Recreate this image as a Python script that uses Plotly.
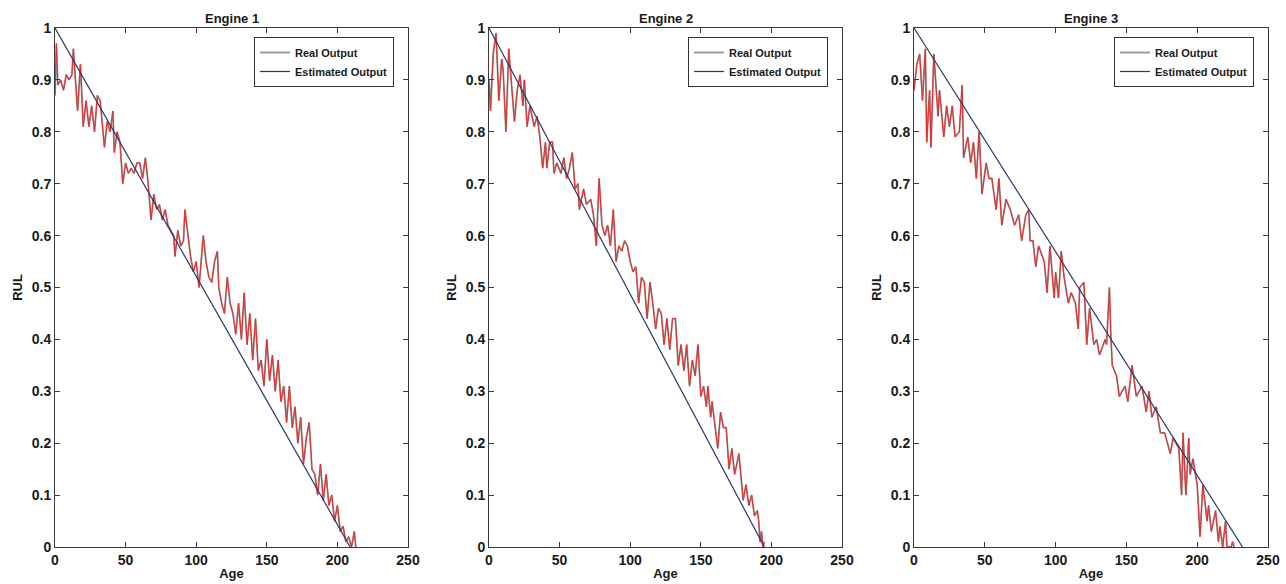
import plotly.graph_objects as go

# ---------------- data ----------------
titles = ["Engine 1", "Engine 2", "Engine 3"]

age1 = [0, 1, 2, 4, 6, 8, 10, 12, 13, 15, 16, 18, 20, 22, 24, 26, 28, 30, 32, 34, 35, 37, 39, 41, 42, 44,
        46, 48, 50, 52, 54, 56, 58, 60, 62, 64, 66, 68, 70, 72, 74, 76, 78, 80, 82, 84, 85, 87, 89, 91,
        92, 94, 96, 98, 100, 102, 104, 105, 107, 109, 111, 113, 115, 116, 118, 120, 122, 124, 126, 128,
        130, 132, 134, 136, 138, 140, 142, 144, 146, 148, 150, 152, 154, 156, 158, 160, 162, 164, 166,
        168, 170, 172, 174, 176, 178, 180, 182, 184, 186, 188, 190, 192, 194, 196, 198, 200, 202, 204,
        206, 208, 210, 212, 213]
real1 = [0.87, 0.97, 0.89, 0.90, 0.88, 0.91, 0.90, 0.91, 0.96, 0.88, 0.84, 0.93, 0.81, 0.86, 0.81, 0.85,
         0.80, 0.87, 0.86, 0.80, 0.77, 0.82, 0.80, 0.84, 0.76, 0.80, 0.78, 0.70, 0.74, 0.72, 0.73, 0.72,
         0.74, 0.74, 0.71, 0.75, 0.70, 0.63, 0.68, 0.65, 0.66, 0.63, 0.65, 0.62, 0.61, 0.60, 0.56, 0.61,
         0.58, 0.59, 0.65, 0.60, 0.56, 0.53, 0.55, 0.50, 0.58, 0.60, 0.55, 0.52, 0.51, 0.55, 0.57, 0.50,
         0.47, 0.45, 0.52, 0.47, 0.45, 0.41, 0.47, 0.40, 0.49, 0.39, 0.45, 0.36, 0.44, 0.34, 0.36, 0.31,
         0.40, 0.32, 0.37, 0.30, 0.36, 0.28, 0.31, 0.24, 0.31, 0.23, 0.27, 0.20, 0.25, 0.16, 0.21, 0.24,
         0.15, 0.14, 0.10, 0.16, 0.09, 0.14, 0.08, 0.10, 0.05, 0.08, 0.03, 0.04, 0.01, 0.02, 0.00, 0.03,
         0.00]
est_age1 = [0, 209]
est1 = [1.0, 0.0]

age2 = [0, 1, 3, 5, 7, 9, 10, 12, 14, 16, 18, 20, 22, 24, 25, 27, 29, 32, 34, 36, 38, 40, 41, 43, 45,
        46, 48, 51, 53, 55, 57, 59, 61, 63, 64, 67, 69, 72, 74, 76, 78, 80, 82, 84, 86, 88, 90, 92, 94,
        96, 98, 100, 102, 104, 106, 108, 110, 112, 114, 116, 118, 120, 122, 124, 126, 128, 130, 132,
        134, 136, 138, 140, 142, 144, 146, 148, 150, 152, 154, 155, 157, 158, 160, 162, 164, 166, 168,
        170, 172, 174, 177, 179, 180, 182, 184, 186, 188, 190, 191, 192, 193, 194, 195]
real2 = [0.90, 0.84, 0.95, 0.99, 0.86, 0.94, 0.92, 0.80, 0.96, 0.89, 0.82, 0.88, 0.91, 0.85, 0.90, 0.81,
         0.85, 0.81, 0.83, 0.79, 0.73, 0.78, 0.73, 0.78, 0.78, 0.72, 0.74, 0.72, 0.75, 0.71, 0.73, 0.76,
         0.69, 0.70, 0.65, 0.69, 0.66, 0.67, 0.64, 0.58, 0.71, 0.62, 0.60, 0.62, 0.58, 0.65, 0.55, 0.58,
         0.57, 0.59, 0.58, 0.55, 0.53, 0.54, 0.47, 0.52, 0.51, 0.44, 0.51, 0.47, 0.42, 0.46, 0.45, 0.39,
         0.44, 0.38, 0.44, 0.44, 0.35, 0.39, 0.34, 0.39, 0.31, 0.36, 0.33, 0.39, 0.29, 0.31, 0.27, 0.31,
         0.25, 0.28, 0.24, 0.19, 0.26, 0.23, 0.23, 0.15, 0.19, 0.14, 0.18, 0.12, 0.09, 0.12, 0.08, 0.10,
         0.06, 0.07, 0.05, 0.01, 0.03, 0.00, 0.01]
est_age2 = [0, 195]
est2 = [1.0, 0.0]

age3 = [0, 2, 4, 6, 8, 9, 11, 12, 14, 17, 18, 21, 23, 25, 27, 29, 32, 34, 35, 38, 40, 42, 44, 46, 48,
        51, 53, 55, 58, 60, 62, 65, 68, 71, 74, 76, 79, 81, 82, 84, 86, 88, 92, 94, 96, 99, 100, 102,
        104, 106, 109, 111, 114, 116, 117, 120, 122, 124, 127, 129, 131, 135, 136, 138, 139, 140, 143,
        145, 149, 151, 154, 157, 161, 164, 166, 168, 171, 174, 177, 181, 183, 187, 189, 190, 192, 194,
        195, 197, 200, 202, 204, 207, 208, 210, 213, 215, 216, 218, 220, 221, 224, 225, 226]
real3 = [0.88, 0.93, 0.95, 0.86, 0.96, 0.78, 0.88, 0.77, 0.95, 0.83, 0.88, 0.79, 0.85, 0.81, 0.85, 0.79,
         0.80, 0.89, 0.75, 0.79, 0.74, 0.78, 0.71, 0.80, 0.68, 0.74, 0.71, 0.71, 0.65, 0.71, 0.62, 0.67,
         0.65, 0.62, 0.64, 0.59, 0.64, 0.65, 0.59, 0.59, 0.54, 0.58, 0.55, 0.49, 0.58, 0.48, 0.53, 0.48,
         0.57, 0.52, 0.47, 0.49, 0.47, 0.42, 0.50, 0.51, 0.39, 0.46, 0.39, 0.40, 0.37, 0.40, 0.39, 0.50,
         0.41, 0.35, 0.33, 0.29, 0.31, 0.28, 0.35, 0.29, 0.31, 0.26, 0.30, 0.25, 0.27, 0.22, 0.22, 0.18,
         0.21, 0.19, 0.10, 0.22, 0.10, 0.21, 0.14, 0.17, 0.12, 0.02, 0.12, 0.05, 0.08, 0.03, 0.07, 0.01,
         0.04, 0.00, 0.05, 0.00, 0.00, 0.01, 0.00]
est_age3 = [0, 232]
est3 = [1.0, 0.0]

x_ticks = [0, 50, 100, 150, 200, 250]
y_ticks = [0, 0.1, 0.2, 0.3, 0.4, 0.5, 0.6, 0.7, 0.8, 0.9, 1]

# ---------------- layout constants ----------------
W, H = 1286, 584
x_px = [(55, 408), (489, 842), (914, 1268)]
y_top, y_bot = 28, 547
legend_right = [394, 828, 1254]
FONT = "Liberation Sans, Arial, sans-serif"
RED = "#e32f2f"
GRAY = "#a09090"
NAVY = "#2c3766"
AXC = "#3a3a3a"

fig = go.Figure()
series = [(age1, real1, est_age1, est1), (age2, real2, est_age2, est2), (age3, real3, est_age3, est3)]

for i, (ax, rv, ex, ev) in enumerate(series):
    xa = "x" if i == 0 else f"x{i+1}"
    ya = "y" if i == 0 else f"y{i+1}"
    lg = "legend" if i == 0 else f"legend{i+1}"
    fig.add_trace(go.Scatter(x=ax, y=rv, mode="lines", name="Real Output",
                             line=dict(color=GRAY, width=1.8), xaxis=xa, yaxis=ya, legend=lg))
    fig.add_trace(go.Scatter(x=ax, y=rv, mode="lines", name="Real Output", showlegend=False,
                             line=dict(color=RED, width=1.0), xaxis=xa, yaxis=ya, legend=lg))
    fig.add_trace(go.Scatter(x=ex, y=ev, mode="lines", name="Estimated Output",
                             line=dict(color=NAVY, width=1.2), xaxis=xa, yaxis=ya, legend=lg))

layout = dict(width=W, height=H, margin=dict(l=0, r=0, t=0, b=0),
              paper_bgcolor="white", plot_bgcolor="white",
              font=dict(family=FONT, color="#1a1a1a"), showlegend=True)

ydom = [1 - y_bot / H, 1 - y_top / H]
for i in range(3):
    sfx = "" if i == 0 else str(i + 1)
    x0, x1 = x_px[i]
    common = dict(showline=True, linecolor=AXC, linewidth=1, mirror="ticks", ticks="inside",
                  ticklen=5, tickcolor=AXC, showgrid=False, zeroline=False, automargin=False,
                  tickfont=dict(family=FONT, size=14, color="#1a1a1a", weight="bold"))
    layout["xaxis" + sfx] = dict(common, domain=[x0 / W, x1 / W], range=[0, 250], tickvals=x_ticks,
                                 anchor="y" + sfx,
                                 title=dict(text="Age", standoff=2,
                                            font=dict(family=FONT, size=13, weight="bold")))
    layout["yaxis" + sfx] = dict(common, domain=ydom, range=[0, 1], tickvals=y_ticks,
                                 anchor="x" + sfx,
                                 title=dict(text="RUL", standoff=6,
                                            font=dict(family=FONT, size=13, weight="bold")))
    layout["legend" + sfx] = dict(x=legend_right[i] / W, xanchor="right", y=1 - 37 / H, yanchor="top",
                                  bgcolor="white", bordercolor="#333", borderwidth=1,
                                  font=dict(family=FONT, size=11, color="#1a1a1a", weight="bold"),
                                  tracegroupgap=0, itemwidth=30)

fig.update_layout(**layout)

for i, t in enumerate(titles):
    x0, x1 = x_px[i]
    fig.add_annotation(text=f"<b>{t}</b>", x=(x0 + x1) / 2 / W, y=1 - 19 / H, xref="paper", yref="paper",
                       showarrow=False, font=dict(family=FONT, size=13, color="#1a1a1a"),
                       xanchor="center", yanchor="middle")

fig.write_html("out.html", config={"displayModeBar": False},
               post_script="document.body.style.margin='0';document.body.style.overflow='hidden';")
